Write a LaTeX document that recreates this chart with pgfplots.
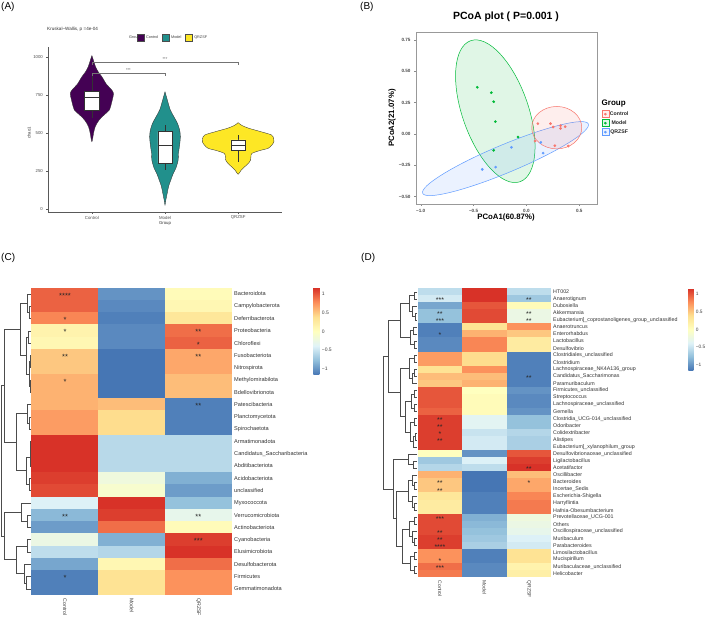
\documentclass[border=0pt]{standalone}
\usepackage{fontspec}
\setmainfont{Liberation Sans}
\usepackage{pgfplots}
\usepackage{pgfplotstable}
\pgfplotsset{compat=1.18}

\newcommand{\sz}[1]{\fontsize{#1}{#1}\selectfont}

\definecolor{vPurple}{HTML}{440154}
\definecolor{vTeal}{HTML}{21908C}
\definecolor{vYellow}{HTML}{FDE725}
\definecolor{gCtrl}{HTML}{F8766D}
\definecolor{gModel}{HTML}{00BA38}
\definecolor{gQR}{HTML}{619CFF}

\pgfplotsset{
  colormap={rdylbu}{rgb255=(69,117,180) rgb255=(145,191,219) rgb255=(224,243,248)
    rgb255=(255,255,191) rgb255=(254,224,144) rgb255=(252,141,89) rgb255=(215,48,39)},
  /pgf/number format/assume math mode=true,
  /pgf/number format/1000 sep={},
}

% heatmap cells
\pgfdeclareplotmark{cellC}{\pgfpathrectangle{\pgfpoint{-33.6pt}{-6.3pt}}{\pgfpoint{67.2pt}{12.6pt}}\pgfusepathqfill}
\pgfdeclareplotmark{cellD}{\pgfpathrectangle{\pgfpoint{-22.4pt}{-3.65pt}}{\pgfpoint{44.8pt}{7.3pt}}\pgfusepathqfill}

% ---------- phylum level, row-scaled abundance ----------
\pgfplotstableread{
row c m q
1 0.95 -1.00 0.05
2 0.95 -1.05 0.10
3 0.80 -1.10 0.30
4 0.15 -1.05 0.90
5 0.10 -1.05 0.95
6 0.50 -1.15 0.65
7 0.50 -1.15 0.65
8 0.60 -1.15 0.55
9 0.60 -1.15 0.55
10 0.60 0.55 -1.10
11 0.70 0.40 -1.10
12 0.70 0.40 -1.10
13 1.15 -0.58 -0.58
14 1.15 -0.58 -0.58
15 1.15 -0.58 -0.58
16 1.10 -0.20 -0.85
17 1.05 -0.10 -0.95
18 -0.40 1.15 -0.75
19 -0.80 1.10 -0.30
20 -0.95 0.90 0.05
21 -0.25 -0.85 1.10
22 -0.55 -0.60 1.15
23 -0.90 0.10 0.90
24 -1.10 0.35 0.75
25 -1.10 0.35 0.75
}\tabC

\pgfplotstableread{
col row s
0 1 ****
0 3 *
0 4 *
0 6 **
0 8 *
0 19 **
0 24 *
2 4 **
2 5 *
2 6 **
2 10 **
2 19 **
2 21 ***
}\starC

% ---------- genus level, row-scaled abundance ----------
\pgfplotstableread{
row c m q
1 -0.55 1.15 -0.55
2 -0.45 1.15 -0.70
3 -0.90 1.00 0.05
4 -0.75 1.05 -0.25
5 -0.75 1.05 -0.25
6 -1.10 0.35 0.75
7 -1.10 0.60 0.50
8 -1.05 0.80 0.25
9 -1.05 0.80 0.25
10 0.70 0.40 -1.10
11 0.70 0.40 -1.10
12 0.35 0.75 -1.10
13 0.55 0.55 -1.10
14 0.50 0.60 -1.10
15 1.00 0.00 -1.00
16 1.00 0.05 -1.05
17 1.00 0.05 -1.05
18 0.95 0.05 -1.00
19 1.10 -0.35 -0.75
20 1.10 -0.35 -0.75
21 1.10 -0.50 -0.60
22 1.10 -0.45 -0.65
23 1.10 -0.45 -0.65
24 0.00 -1.00 1.00
25 -0.70 -0.40 1.10
26 -0.60 -0.55 1.15
27 0.60 -1.15 0.55
28 0.50 -1.15 0.65
29 0.50 -1.15 0.65
30 0.30 -1.10 0.80
31 0.25 -1.10 0.85
32 0.25 -1.10 0.85
33 1.05 -0.85 -0.20
34 1.05 -0.80 -0.25
35 1.05 -0.75 -0.30
36 1.10 -0.70 -0.40
37 1.10 -0.65 -0.45
38 0.75 -1.10 0.35
39 0.75 -1.10 0.35
40 0.90 -1.05 0.15
41 0.85 -1.05 0.20
}\tabD

\pgfplotstableread{
col row s
0 2 ***
0 4 **
0 5 ***
0 7 *
0 19 **
0 20 **
0 21 *
0 22 **
0 28 **
0 29 **
0 33 ***
0 35 **
0 36 **
0 37 ****
0 39 *
0 40 ***
2 2 **
2 4 **
2 5 **
2 13 **
2 26 **
2 28 *
}\starD

% ---------- dendrograms (x = height, y = row) ----------
\pgfplotstableread{
x y
31 2
29 2
29 3
31 3
nan nan
31 1
27 1
27 2.5
29 2.5
nan nan
31 4
28 4
28 5
31 5
nan nan
31 6
30 6
30 7
31 7
nan nan
31 8
30 8
30 9
31 9
nan nan
30 6.5
29 6.5
29 8.5
30 8.5
nan nan
28 4.5
26 4.5
26 7.5
29 7.5
nan nan
27 1.75
20 1.75
20 6
26 6
nan nan
31 11
29 11
29 12
31 12
nan nan
31 10
27 10
27 11.5
29 11.5
nan nan
31 13
30.5 13
30.5 14
31 14
nan nan
30.5 13.5
30 13.5
30 15
31 15
nan nan
31 16
29 16
29 17
31 17
nan nan
30 14.25
26 14.25
26 16.5
29 16.5
nan nan
27 10.75
16 10.75
16 15.375
26 15.375
nan nan
20 3.875
4 3.875
4 13.0625
16 13.0625
nan nan
31 19
27 19
27 20
31 20
nan nan
31 18
21 18
21 19.5
27 19.5
nan nan
31 21
27 21
27 22
31 22
nan nan
31 24
26 24
26 25
31 25
nan nan
31 23
24 23
24 24.5
26 24.5
nan nan
27 21.5
16 21.5
16 23.75
24 23.75
nan nan
21 18.75
4 18.75
4 22.625
16 22.625
nan nan
4 8.469
1.5 8.469
1.5 20.688
4 20.688
}\dendC

\pgfplotstableread{
x y
39 1
36 1
36 2
39 2
nan nan
39 4
37 4
37 5
39 5
nan nan
39 3
34 3
34 4.5
37 4.5
nan nan
36 1.5
31 1.5
31 3.75
34 3.75
nan nan
39 6
35 6
35 7
39 7
nan nan
39 8
36 8
36 9
39 9
nan nan
35 6.5
32 6.5
32 8.5
36 8.5
nan nan
31 2.625
22 2.625
22 7.5
32 7.5
nan nan
39 10
36 10
36 11
39 11
nan nan
39 12
36 12
36 13
39 13
nan nan
36 12.5
34 12.5
34 14
39 14
nan nan
36 10.5
31 10.5
31 13.25
34 13.25
nan nan
39 15
36 15
36 16
39 16
nan nan
39 17
36 17
36 18
39 18
nan nan
36 15.5
33 15.5
33 17.5
36 17.5
nan nan
39 19
36 19
36 20
39 20
nan nan
39 21
37 21
37 22
39 22
nan nan
37 21.5
35 21.5
35 23
39 23
nan nan
36 19.5
32 19.5
32 22.25
35 22.25
nan nan
33 16.5
27 16.5
27 20.875
32 20.875
nan nan
31 11.875
22 11.875
22 18.6875
27 18.6875
nan nan
22 5.0625
10 5.0625
10 15.28
22 15.28
nan nan
39 25
35 25
35 26
39 26
nan nan
39 24
30 24
30 25.5
35 25.5
nan nan
39 28
36 28
36 29
39 29
nan nan
39 27
34 27
34 28.5
36 28.5
nan nan
39 31
36 31
36 32
39 32
nan nan
39 30
34 30
34 31.5
36 31.5
nan nan
34 27.75
30 27.75
30 30.75
34 30.75
nan nan
39 33
36 33
36 34
39 34
nan nan
39 36
36 36
36 37
39 37
nan nan
39 35
34 35
34 36.5
36 36.5
nan nan
36 33.5
31 33.5
31 35.75
34 35.75
nan nan
39 38
36 38
36 39
39 39
nan nan
39 40
36 40
36 41
39 41
nan nan
36 38.5
32 38.5
32 40.5
36 40.5
nan nan
31 34.625
24 34.625
24 39.5
32 39.5
nan nan
30 29.25
18 29.25
18 37.0625
24 37.0625
nan nan
30 24.75
15 24.75
15 33.156
18 33.156
nan nan
10 10.17
5 10.17
5 28.953
15 28.953
}\dendD

\begin{document}
\begin{tikzpicture}
\path[use as bounding box, fill=white] (0pt,0pt) rectangle (708pt,618pt);

% ---------------- panel labels ----------------
\node[anchor=north west, inner sep=0, font=\sz{10}] at (1pt,616pt) {(A)};
\node[anchor=north west, inner sep=0, font=\sz{10}] at (360pt,616pt) {(B)};
\node[anchor=north west, inner sep=0, font=\sz{10}] at (1pt,365pt) {(C)};
\node[anchor=north west, inner sep=0, font=\sz{10}] at (361pt,365pt) {(D)};

% ================= (A) alpha diversity =================
\begin{axis}[
  at={(48pt,406pt)}, anchor=south west, scale only axis,
  width=234pt, height=165pt,
  xmin=0.4, xmax=3.6, ymin=-20, ymax=1066,
  axis x line*=bottom, axis y line*=left,
  axis line style={-, black!65, line width=0.45pt},
  xtick={1,2,3}, xticklabels={Control,Model,QRZSF},
  ytick={0,250,500,750,1000},
  tick align=outside, major tick length=1.6pt,
  tick style={black!65, line width=0.4pt},
  ticklabel style={font=\sz{4.3}, text=black!70},
  xticklabel style={yshift=1.2pt},
  clip=false,
  legend columns=-1,
  legend style={at={(0.535,1.055)}, anchor=center, draw=none, fill=none,
    font=\sz{3.8}, text=black!75, inner sep=0pt,
    /tikz/every even column/.append style={column sep=2pt}},
]
\addplot[fill=vPurple, draw=black!80, line width=0.35pt, smooth, tension=0.5,
  legend image code/.code={\filldraw[fill=vPurple, draw=black!70, line width=0.3pt] (0pt,-3.2pt) rectangle (6.5pt,3.3pt);}]
  coordinates {(1,1010) (1.02,980) (1.05,936) (1.09,900) (1.137,870) (1.20,820) (1.26,790) (1.296,761)
    (1.28,720) (1.26,680) (1.24,651) (1.17,620) (1.10,586) (1.046,542) (1.023,498) (1,443)
    (0.977,498) (0.954,542) (0.90,586) (0.83,620) (0.76,651) (0.74,680) (0.72,720) (0.704,761)
    (0.74,790) (0.80,820) (0.863,870) (0.91,900) (0.95,936) (0.98,980) (1,1010)};
\addplot[fill=vTeal, draw=black!80, line width=0.35pt, smooth, tension=0.5,
  legend image code/.code={\filldraw[fill=vTeal, draw=black!70, line width=0.3pt] (0pt,-3.2pt) rectangle (6.5pt,3.3pt);}]
  coordinates {(2,772) (2.03,720) (2.073,651) (2.13,600) (2.17,564) (2.20,520) (2.21,476) (2.20,420)
    (2.185,370) (2.18,322) (2.15,270) (2.11,230) (2.08,191) (2.05,150) (2.03,103) (2.012,60) (2,26)
    (1.988,60) (1.97,103) (1.95,150) (1.92,191) (1.89,230) (1.85,270) (1.82,322) (1.815,370)
    (1.80,420) (1.79,476) (1.80,520) (1.83,564) (1.87,600) (1.927,651) (1.97,720) (2,772)};
\addplot[fill=vYellow, draw=black!80, line width=0.35pt, smooth, tension=0.5,
  legend image code/.code={\filldraw[fill=vYellow, draw=black!70, line width=0.3pt] (0pt,-3.2pt) rectangle (6.5pt,3.3pt);}]
  coordinates {(3,568) (3.05,550) (3.146,531) (3.30,510) (3.456,487) (3.485,465) (3.49,443) (3.46,420)
    (3.41,399) (3.30,385) (3.19,366) (3.175,345) (3.17,322) (3.14,300) (3.09,278) (3.04,255) (3,228)
    (2.96,255) (2.91,278) (2.86,300) (2.83,322) (2.825,345) (2.81,366) (2.70,385) (2.59,399)
    (2.54,420) (2.51,443) (2.515,465) (2.544,487) (2.70,510) (2.854,531) (2.95,550) (3,568)};
\legend{Control,Model,QRZSF}

% boxes: quartiles, median and whiskers
\addplot[forget plot, black!80, line width=0.4pt] coordinates {(1,772) (1,895)};
\addplot[forget plot, black!80, line width=0.4pt] coordinates {(1,599) (1,651)};
\addplot[forget plot, fill=white, draw=black!80, line width=0.4pt]
  coordinates {(0.897,651) (1.103,651) (1.103,772) (0.897,772) (0.897,651)};
\addplot[forget plot, black!80, line width=0.5pt] coordinates {(0.897,735) (1.103,735)};

\addplot[forget plot, black!80, line width=0.4pt] coordinates {(2,509) (2,553)};
\addplot[forget plot, black!80, line width=0.4pt] coordinates {(2,257) (2,301)};
\addplot[forget plot, fill=white, draw=black!80, line width=0.4pt]
  coordinates {(1.902,301) (2.098,301) (2.098,509) (1.902,509) (1.902,301)};
\addplot[forget plot, black!80, line width=0.5pt] coordinates {(1.902,421) (2.098,421)};

\addplot[forget plot, black!80, line width=0.4pt] coordinates {(3,454) (3,487)};
\addplot[forget plot, black!80, line width=0.4pt] coordinates {(3,311) (3,388)};
\addplot[forget plot, fill=white, draw=black!80, line width=0.4pt]
  coordinates {(2.9,388) (3.1,388) (3.1,454) (2.9,454) (2.9,388)};
\addplot[forget plot, black!80, line width=0.5pt] coordinates {(2.9,421) (3.1,421)};

% significance brackets
\addplot[forget plot, black!55, line width=0.35pt] coordinates {(1,875) (1,893) (2,893) (2,875)};
\addplot[forget plot, black!55, line width=0.35pt] coordinates {(1,948) (1,963) (3,963) (3,948)};
\node[font=\sz{4}, text=black!70] at (axis cs:1.5,912) {***};
\node[font=\sz{4}, text=black!70] at (axis cs:2.0,984) {***};
\end{axis}
\node[anchor=west, font=\sz{4.6}, text=black!80, inner sep=0] at (47pt,589pt) {Kruskal–Wallis, p =4e-04};
\node[anchor=east, font=\sz{3.8}, text=black!80, inner sep=0] at (140pt,580pt) {Group};
\node[rotate=90, font=\sz{4.3}, text=black!80] at (29pt,485pt) {chao1};
\node[font=\sz{4.3}, text=black!80] at (165pt,395pt) {Group};

% ================= (B) PCoA =================
\begin{axis}[
  at={(416pt,414pt)}, anchor=south west, scale only axis,
  width=181pt, height=172pt,
  xmin=-1.045, xmax=0.668, ymin=-0.558, ymax=0.814,
  axis line style={black!40, line width=0.7pt},
  xtick={-1,-0.5,0,0.5}, xticklabels={−1.0,−0.5,0.0,0.5},
  ytick={-0.5,-0.25,0,0.25,0.5,0.75},
  yticklabels={−0.50,−0.25,0.00,0.25,0.50,0.75},
  xtick pos=left, ytick pos=left, tick align=outside, major tick length=2pt,
  tick style={black!45, line width=0.45pt},
  ticklabel style={font=\bfseries\sz{4.6}, text=black!70},
  legend style={at={(1.025,0.545)}, anchor=north west, draw=none, fill=none,
    font=\bfseries\sz{5.2}, row sep=1.6pt, inner sep=0pt,
    nodes={inner sep=0.8pt, text=black!85}},
]
% confidence ellipses
\draw[gModel, line width=0.5pt, fill=gModel, fill opacity=0.12,
  rotate around={109.3:(axis cs:-0.2945,0.182)}]
  (axis cs:-0.2945,0.182) ellipse [x radius=74.7pt, y radius=33pt];
\draw[gQR, line width=0.5pt, fill=gQR, fill opacity=0.12,
  rotate around={22.7:(axis cs:-0.198,-0.196)}]
  (axis cs:-0.198,-0.196) ellipse [x radius=89.8pt, y radius=14pt];
\draw[gCtrl, line width=0.5pt, fill=gCtrl, fill opacity=0.12]
  (axis cs:0.287,0.0508) ellipse [x radius=25pt, y radius=21.2pt];

\addplot[only marks, mark=*, mark size=1.15pt, color=gCtrl,
  legend image code/.code={\draw[gCtrl, line width=0.4pt, fill=gCtrl!12] (-0.5pt,-3.3pt) rectangle (6.5pt,3.7pt); \fill[gCtrl] (3pt,0.2pt) circle (1.1pt);}]
  coordinates {(0.108,0.083) (0.228,0.083) (0.253,0.056) (0.323,0.067) (0.323,0.045)
    (0.367,0.059) (0.082,-0.056) (0.269,-0.093) (0.396,-0.096)};
\addplot[only marks, mark=*, mark size=1.15pt, color=gModel,
  legend image code/.code={\draw[gModel, line width=0.4pt, fill=gModel!12] (-0.5pt,-3.3pt) rectangle (6.5pt,3.7pt); \fill[gModel] (3pt,0.2pt) circle (1.1pt);}]
  coordinates {(-0.465,0.373) (-0.332,0.330) (-0.310,0.258) (-0.294,0.099) (-0.079,-0.024) (-0.310,-0.130)};
\addplot[only marks, mark=*, mark size=1.15pt, color=gQR,
  legend image code/.code={\draw[gQR, line width=0.4pt, fill=gQR!12] (-0.5pt,-3.3pt) rectangle (6.5pt,3.7pt); \fill[gQR] (3pt,0.2pt) circle (1.1pt);}]
  coordinates {(-0.142,-0.106) (0.136,-0.067) (0.158,-0.152) (-0.418,-0.282) (-0.291,-0.264)};
\legend{Control,Model,QRZSF}
\end{axis}
\node[font=\bfseries\sz{10.5}] at (506pt,601pt) {PCoA plot ( P=0.001 )};
\node[font=\bfseries\sz{7.8}] at (506pt,401pt) {PCoA1(60.87\%)};
\node[rotate=90, font=\bfseries\sz{7.8}] at (392pt,500pt) {PCoA2(21.07\%)};
\node[anchor=west, font=\bfseries\sz{8}, inner sep=0] at (601.5pt,514pt) {Group};

% ================= (C) phylum heatmap =================
\begin{axis}[
  at={(0pt,23pt)}, anchor=south west, scale only axis,
  width=31.7pt, height=307.3pt,
  xmin=0, xmax=31.7, ymin=0.5, ymax=25.5, y dir=reverse,
  hide axis, clip=false,
]
\addplot[black!70, line width=0.4pt, unbounded coords=jump] table[x=x, y=y] \dendC;
\end{axis}

\begin{axis}[
  at={(31.7pt,23pt)}, anchor=south west, scale only axis,
  width=200pt, height=307.3pt,
  xmin=-0.5, xmax=2.5, ymin=0.5, ymax=25.5, y dir=reverse,
  axis line style={draw=none}, major tick length=0pt, tick style={draw=none},
  xtick={0,1,2}, xticklabels={Control,Model,QRZSF},
  xticklabel style={rotate=-90, anchor=west, font=\sz{5.2}, text=black!75},
  ytick={1,...,25}, yticklabel pos=right,
  yticklabels={Bacteroidota,Campylobacterota,Deferribacterota,Proteobacteria,Chloroflexi,
    Fusobacteriota,Nitrospirota,Methylomirabilota,Bdellovibrionota,Patescibacteria,
    Planctomycetota,Spirochaetota,Armatimonadota,Candidatus\_Saccharibacteria,
    Abditibacteriota,Acidobacteriota,unclassified,Myxococcota,Verrucomicrobiota,
    Actinobacteriota,Cyanobacteria,Elusimicrobiota,Desulfobacterota,Firmicutes,
    Gemmatimonadota},
  yticklabel style={anchor=west, font=\sz{5.6}, text=black!80, xshift=-1pt},
  colormap name=rdylbu, point meta min=-1.155, point meta max=1.155,
  colorbar,
  colorbar style={
    at={(parent axis.north east)}, anchor=north west, xshift=73.1pt,
    scale only axis, width=6pt, height=87.3pt,
    ytick={-1,-0.5,0,0.5,1}, yticklabels={−1,−0.5,0,0.5,1},
    yticklabel style={font=\sz{5}, text=black!75, xshift=-1pt},
    major tick length=0pt, axis line style={draw=none}, tick style={draw=none},
  },
  clip=false,
]
\addplot[scatter, only marks, mark=cellC, point meta=explicit]
  table[x expr=0, y=row, meta=c] \tabC;
\addplot[scatter, only marks, mark=cellC, point meta=explicit]
  table[x expr=1, y=row, meta=m] \tabC;
\addplot[scatter, only marks, mark=cellC, point meta=explicit]
  table[x expr=2, y=row, meta=q] \tabC;
\addplot[only marks, mark=none, point meta=explicit symbolic, nodes near coords,
  nodes near coords style={anchor=center, inner sep=0pt, font=\sz{7.5}, text=black!85, yshift=-1.6pt}]
  table[x=col, y=row, meta=s] \starC;
\end{axis}

% ================= (D) genus heatmap =================
\begin{axis}[
  at={(378pt,40.8pt)}, anchor=south west, scale only axis,
  width=39.7pt, height=289pt,
  xmin=0, xmax=39.7, ymin=0.5, ymax=41.5, y dir=reverse,
  hide axis, clip=false,
]
\addplot[black!70, line width=0.4pt, unbounded coords=jump] table[x=x, y=y] \dendD;
\end{axis}

\begin{axis}[
  at={(417.7pt,40.8pt)}, anchor=south west, scale only axis,
  width=133.5pt, height=289pt,
  xmin=-0.5, xmax=2.5, ymin=0.5, ymax=41.5, y dir=reverse,
  axis line style={draw=none}, major tick length=0pt, tick style={draw=none},
  xtick={0,1,2}, xticklabels={Control,Model,QRZSF},
  xticklabel style={rotate=-90, anchor=west, font=\sz{5}, text=black!75},
  ytick={1,...,41}, yticklabel pos=right,
  yticklabels={HT002,Anaerotignum,Dubosiella,Akkermansia,
    Eubacterium]\_coprostanoligenes\_group\_unclassified,Anaerotruncus,Enterorhabdus,
    Lactobacillus,Desulfovibrio,Clostridiales\_unclassified,Clostridium,
    Lachnospiraceae\_NK4A136\_group,Candidatus\_Saccharimonas,Paramuribaculum,
    Firmicutes\_unclassified,Streptococcus,Lachnospiraceae\_unclassified,Gemella,
    Clostridia\_UCG-014\_unclassified,Odoribacter,Colidextribacter,Alistipes,
    Eubacterium]\_xylanophilum\_group,Desulfovibrionaceae\_unclassified,Ligilactobacillus,
    Acetatifactor,Oscillibacter,Bacteroides,Incertae\_Sedis,Escherichia-Shigella,
    Harryflintia,Hafnia-Obesumbacterium,Prevotellaceae\_UCG-001,Others,
    Oscillospiraceae\_unclassified,Muribaculum,Parabacteroides,Limosilactobacillus,
    Mucispirillum,Muribaculaceae\_unclassified,Helicobacter},
  yticklabel style={anchor=west, font=\sz{5.3}, text=black!80, xshift=-1.5pt},
  colormap name=rdylbu, point meta min=-1.155, point meta max=1.155,
  colorbar,
  colorbar style={
    at={(parent axis.north east)}, anchor=north west, xshift=128.6pt,
    scale only axis, width=5pt, height=82.3pt,
    ytick={-1,-0.5,0,0.5,1}, yticklabels={−1,−0.5,0,0.5,1},
    yticklabel style={font=\sz{4.8}, text=black!75, xshift=-1pt},
    major tick length=0pt, axis line style={draw=none}, tick style={draw=none},
  },
  clip=false,
]
\addplot[scatter, only marks, mark=cellD, point meta=explicit]
  table[x expr=0, y=row, meta=c] \tabD;
\addplot[scatter, only marks, mark=cellD, point meta=explicit]
  table[x expr=1, y=row, meta=m] \tabD;
\addplot[scatter, only marks, mark=cellD, point meta=explicit]
  table[x expr=2, y=row, meta=q] \tabD;
\addplot[only marks, mark=none, point meta=explicit symbolic, nodes near coords,
  nodes near coords style={anchor=center, inner sep=0pt, font=\sz{7}, text=black!85, yshift=-1.5pt}]
  table[x=col, y=row, meta=s] \starD;
\end{axis}
\end{tikzpicture}
\end{document}
